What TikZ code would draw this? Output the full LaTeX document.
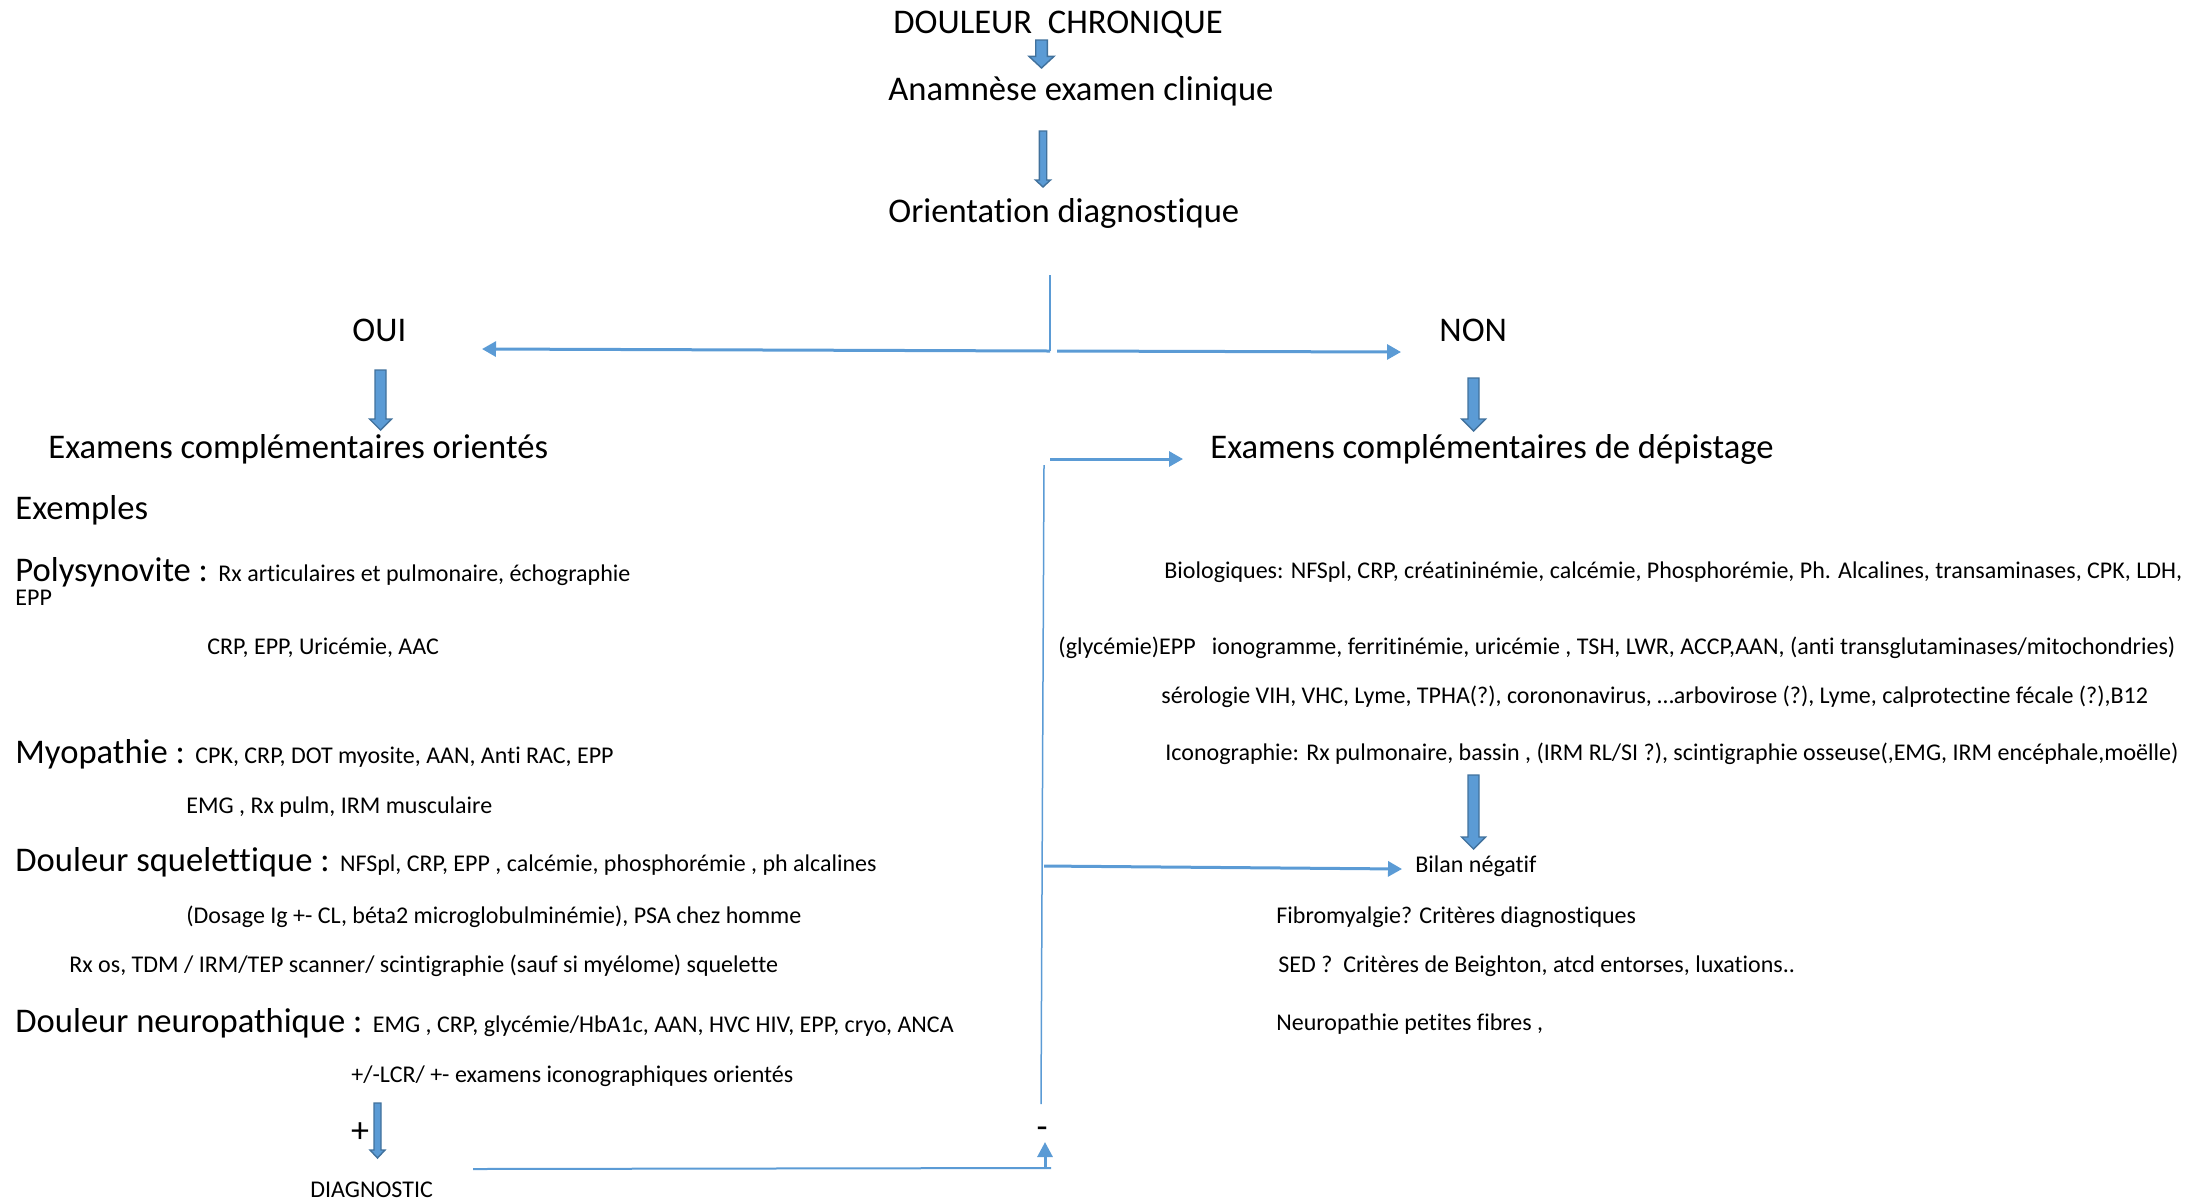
\documentclass[tikz,border=0pt]{standalone}
\usepackage{fontspec}
\setmainfont{Carlito}[Ligatures={NoCommon}]
\usetikzlibrary{arrows.meta,calc}
\definecolor{lineblue}{HTML}{5B9BD5}
\definecolor{edgeblue}{HTML}{41719C}
\tikzset{
  big/.style={anchor=base west, inner sep=0pt, font=\fontsize{17.3}{20}\selectfont},
  small/.style={anchor=base west, inner sep=0pt, font=\fontsize{12}{14}\selectfont},
  mid/.style={anchor=center, inner sep=0pt, font=\fontsize{18}{20}\selectfont},
  thinline/.style={draw=lineblue, line width=0.75pt},
  flowarrow/.style={draw=lineblue, line width=1.5pt, -{Triangle[length=7pt,width=7.5pt]}},
  blockarr/.style n args={3}{draw=edgeblue, fill=lineblue, line width=0.7pt,
    to path={let \p1=(\tikztostart), \p2=(\tikztotarget) in
      (\x1-#1,\y1) -- (\x1+#1,\y1) -- (\x1+#1,\y2+#3) -- (\x1+#2,\y2+#3) -- (\x1,\y2)
      -- (\x1-#2,\y2+#3) -- (\x1-#1,\y2+#3) -- cycle}}
}
\newcommand{\sm}{\fontsize{12}{14}\selectfont}
\begin{document}
\begin{tikzpicture}[x=0.5pt,y=-0.5pt]
\useasboundingbox (0,0) rectangle (2209,1201);
% top chain
\node[big] (douleur) at (893,33) {DOULEUR\ \ CHRONIQUE};
\node[big] (anam) at (888,100) {Anamnèse examen clinique};
\node[big] (orient) at (888,222) {Orientation diagnostique};
\node[big] (oui) at (352,341) {OUI};
\node[big] (non) at (1439,341) {NON};
\node[big] (exo) at (48,458) {Examens complémentaires orientés};
\node[big] (exd) at (1210,458) {Examens complémentaires de dépistage};
% left column
\node[big] (exemples) at (15,519) {Exemples};
\node[big] (poly) at (15,581) {Polysynovite : \sm Rx articulaires et pulmonaire, échographie};
\node[small] (epp) at (15,605) {EPP};
\node[small] (crp) at (207,654) {CRP, EPP, Uricémie, AAC};
\node[big] (myo) at (15,763) {Myopathie : \sm CPK, CRP, DOT myosite, AAN, Anti RAC, EPP};
\node[small] (emg) at (186,813) {EMG , Rx pulm, IRM musculaire};
\node[big] (squel) at (15,871) {Douleur squelettique : \sm NFSpl, CRP, EPP , calcémie, phosphorémie , ph alcalines};
\node[small] (dosage) at (186,923) {(Dosage Ig +- CL, béta2 microglobulminémie), PSA chez homme};
\node[small] (rxos) at (69,972) {Rx os, TDM / IRM/TEP scanner/ scintigraphie (sauf si myélome) squelette};
\node[big] (neuro) at (15,1032) {Douleur neuropathique : \sm EMG , CRP, glycémie/HbA1c, AAN, HVC HIV, EPP, cryo, ANCA};
\node[small] (lcr) at (351,1082) {+/-LCR/ +- examens iconographiques orientés};
\node[mid] (plus) at (360,1133) {+};
\node[small] (diag) at (310,1197) {DIAGNOSTIC};
\node[mid] (minus) at (1042,1133) {-};
% right column
\node[small] (bio) at (1164,578) {Biologiques: NFSpl, CRP, créatininémie, calcémie, Phosphorémie, Ph. Alcalines, transaminases, CPK, LDH,};
\node[small] (glyc) at (1058,654) {(glycémie)EPP\ \ \ ionogramme, ferritinémie, uricémie , TSH, LWR, ACCP,AAN, (anti transglutaminases/mitochondries)};
\node[small] (sero) at (1161,703) {sérologie VIH, VHC, Lyme, TPHA(?), corononavirus, …arbovirose (?), Lyme, calprotectine fécale (?),B12};
\node[small] (icono) at (1165,760) {Iconographie: Rx pulmonaire, bassin , (IRM RL/SI ?), scintigraphie osseuse(,EMG, IRM encéphale,moëlle)};
\node[small] (bilan) at (1415,872) {Bilan négatif};
\node[small] (fibro) at (1276,923) {Fibromyalgie? Critères diagnostiques};
\node[small] (sed) at (1278,972) {SED ?\ \ Critères de Beighton, atcd entorses, luxations..};
\node[small] (neurop) at (1276,1030) {Neuropathie petites fibres ,};
% coordinates for connector ends
\coordinate (a1s) at (1041.5,40);   \coordinate (a1e) at (1041.5,68);
\coordinate (a2s) at (1043,131);    \coordinate (a2e) at (1043,187);
\coordinate (aouis) at (380.5,370); \coordinate (aouie) at (380.5,430);
\coordinate (anons) at (1473.5,378);\coordinate (anone) at (1473.5,431);
\coordinate (abils) at (1473.5,775);\coordinate (abile) at (1473.5,849);
\coordinate (adiags) at (377.5,1103);\coordinate (adiage) at (377.5,1158);
\coordinate (splittop) at (1050,275);
\coordinate (fork) at (1050,351);
\coordinate (forkr) at (1057,351);
\coordinate (ouitip) at (482,349);
\coordinate (nontip) at (1401,352);
\coordinate (exdstart) at (1050,459);
\coordinate (exdtip) at (1183,459);
\coordinate (vtop) at (1044,465);
\coordinate (vbot) at (1041,1104);
\coordinate (bilstart) at (1044,866);
\coordinate (biltip) at (1402,869);
\coordinate (diagline) at (473,1169);
\coordinate (corner) at (1051,1168);
\coordinate (upstart) at (1045,1169);
\coordinate (uptip) at (1045,1142);
% block arrows
\draw[blockarr={2.9pt}{6.25pt}{5.8pt}] (a1s) to (a1e);
\draw[blockarr={1.85pt}{3.75pt}{3.5pt}] (a2s) to (a2e);
\draw[blockarr={2.75pt}{5.5pt}{5.5pt}] (aouis) to (aouie);
\draw[blockarr={2.75pt}{6pt}{6pt}] (anons) to (anone);
\draw[blockarr={2.75pt}{6pt}{6pt}] (abils) to (abile);
\draw[blockarr={1.75pt}{3.75pt}{4pt}] (adiags) to (adiage);
% thin connectors
\draw[thinline] (splittop) -- (fork);
\draw[flowarrow] (fork) -- (ouitip);
\draw[flowarrow] (forkr) -- (nontip);
\draw[flowarrow] (exdstart) -- (exdtip);
\draw[thinline] (vtop) -- (vbot);
\draw[flowarrow] (bilstart) -- (biltip);
\draw[thinline, line width=1pt] (diagline) -- (corner);
\draw[draw=lineblue, line width=1.5pt, -{Triangle[length=7.5pt,width=7.5pt]}] (upstart) -- (uptip);
\end{tikzpicture}
\end{document}
